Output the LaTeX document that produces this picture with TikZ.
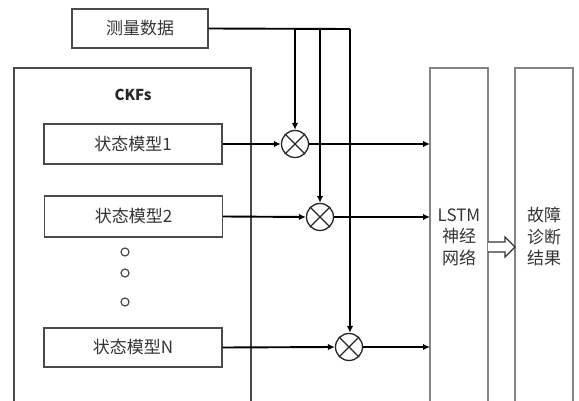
\documentclass[tikz,border=0pt]{standalone}
\usepackage{fontspec}
\setmainfont{Noto Sans CJK SC}
\usetikzlibrary{arrows.meta}
\definecolor{txt}{HTML}{333333}
\definecolor{frame}{HTML}{4A4A4A}
\definecolor{lframe}{HTML}{858585}
\begin{document}
\begin{tikzpicture}[x=1pt,y=-1pt,
  box/.style={draw=frame,line width=1.3pt,minimum width=178pt,minimum height=40pt,inner sep=0pt,
    text=txt,font=\fontsize{17}{20}\selectfont},
  mult/.style={draw=black!85,circle,line width=1.3pt,minimum size=27pt,inner sep=0pt},
  conn/.style={line width=1.9pt,-{Latex[length=7pt,width=6.5pt]}},
  plain/.style={line width=1.9pt},
  col/.style={text=txt,font=\fontsize{17}{21.5}\selectfont,align=center}]
\useasboundingbox (0,0) rectangle (579,401);
% measurement data
\node[box,minimum width=136pt,minimum height=39pt] (meas) at (140,28.5) {测量数据};
% CKFs frame
\draw[frame,line width=1.3pt] (14,402) -- (14,68) -- (251,68) -- (251,402);
\node[text=black!85,font=\fontsize{15}{16}\selectfont\bfseries] (ckf) at (133,95) {CKFs};
\node[box] (sm1) at (133,144) {状态模型1};
\node[box,minimum height=41pt] (sm2) at (133.5,216.5) {状态模型2};
\node[box,minimum height=39pt] (smN) at (133,347.5) {状态模型N};
\node[draw=frame,circle,line width=1.2pt,minimum size=8pt,inner sep=0pt] (d1) at (125,252) {};
\node[draw=frame,circle,line width=1.2pt,minimum size=8pt,inner sep=0pt] (d2) at (125,273) {};
\node[draw=frame,circle,line width=1.2pt,minimum size=8pt,inner sep=0pt] (d3) at (125,302) {};
% multipliers
\node[mult] (o1) at (295,144) {};
\node[mult] (o2) at (320,217) {};
\node[mult] (o3) at (349,347) {};
\foreach \o in {o1,o2,o3}{
  \draw[black!85,line width=1.2pt] (\o.north west) -- (\o.south east);
  \draw[black!85,line width=1.2pt] (\o.north east) -- (\o.south west);
}
% LSTM and result columns
\draw[lframe,line width=1.4pt] (430,402) -- (430,68) -- (488,68) -- (488,402);
\draw[lframe,line width=1.4pt] (515,402) -- (515,68) -- (573,68) -- (573,402);
\node[col] (lstm) at (459,237) {LSTM\\神经\\网络};
\node[col] (res) at (544,237) {故障\\诊断\\结果};
\coordinate (l1) at (430,144);
\coordinate (l2) at (430,217);
\coordinate (l3) at (430,347);
% hollow arrow
\draw[black!80,line width=1.1pt,fill=white] (488,242) -- (505,242) -- (505,237) -- (515,247) -- (505,257) -- (505,252) -- (488,252);
% measurement distribution
\coordinate (j1) at (295,29);
\coordinate (j2) at (320,29);
\coordinate (j3) at (350,29);
\draw[plain] (meas.east) -- (j3);
\draw[conn] (j1) -- (o1.north);
\draw[conn] (j2) -- (o2.north);
\draw[conn] (j3) -- (o3.north -| j3);
% model to multiplier to LSTM
\draw[conn] (sm1.east) -- (o1.west);
\draw[conn] (sm2.east) -- (o2.west);
\draw[conn] (smN.east) -- (o3.west);
\draw[conn] (o1.east) -- (l1);
\draw[conn] (o2.east) -- (l2);
\draw[conn] (o3.east) -- (l3);
\end{tikzpicture}
\end{document}
